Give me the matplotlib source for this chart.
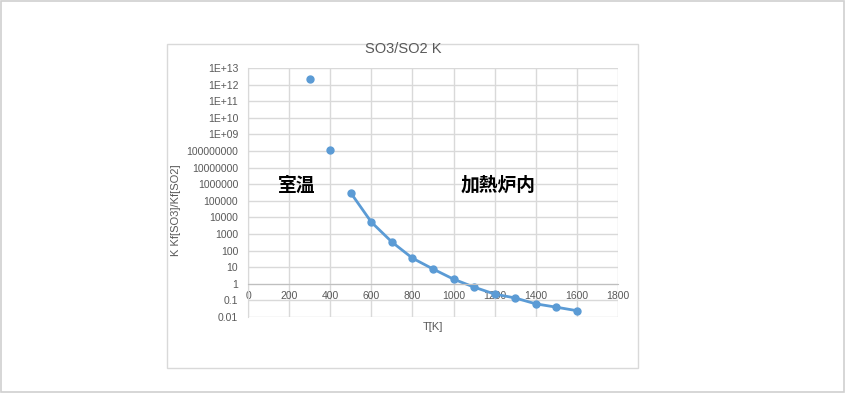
import numpy as np
import matplotlib.pyplot as plt
from matplotlib.patches import Rectangle

plt.rcParams['font.family'] = ['Liberation Sans', 'Noto Sans CJK JP']

# room temperature points (markers only)
t_room = [300, 400]
k_room = [2.2e12, 1.1e8]

# furnace points (line + markers)
t_hot = [500, 600, 700, 800, 900, 1000, 1100, 1200, 1300, 1400, 1500, 1600]
k_hot = [3.0e5, 5.2e3, 330, 35, 7.8, 1.9, 0.63, 0.24, 0.14, 0.062, 0.039, 0.024]

x_ticks = [0, 200, 400, 600, 800, 1000, 1200, 1400, 1600, 1800]
y_ticks = [10.0**p for p in range(-2, 14)]
y_labels = ['0.01', '0.1', '1', '10', '100', '1000', '10000', '100000', '1000000',
            '10000000', '100000000', '1E+09', '1E+10', '1E+11', '1E+12', '1E+13']

blue = '#5B9BD5'
grey = '#595959'
grid_c = '#D9D9D9'

fig = plt.figure(figsize=(8.46, 3.93), dpi=100)
# outer frame and chart frame
fig.patches.append(Rectangle((0.001, 0.002), 0.997, 0.995, transform=fig.transFigure,
                             fill=False, ec='#D0D0D0', lw=1.2))
fig.patches.append(Rectangle((167/846, 1-368/393), (638-167)/846, (368-44)/393,
                             transform=fig.transFigure, fill=False, ec='#D9D9D9', lw=1))

ax = fig.add_axes([248/846, 1-317/393, 370/846, 249/393])
ax.set_yscale('log')
ax.set_xlim(0, 1800)
ax.set_ylim(0.01, 1e13)

ax.plot(t_hot, k_hot, color=blue, lw=2, marker='o', ms=5)
ax.plot(t_room, k_room, ls='none', color=blue, marker='o', ms=5)

ax.set_xticks(x_ticks)
ax.set_xticklabels([str(v) for v in x_ticks])
ax.set_yticks(y_ticks)
ax.set_yticklabels(y_labels)
ax.minorticks_off()
ax.tick_params(length=0, labelsize=7.5, labelcolor=grey)
ax.tick_params(axis='y', pad=7)
ax.tick_params(axis='x', pad=5)

ax.grid(True, color=grid_c, lw=1)
ax.set_axisbelow(True)
for s in ['top', 'right']:
    ax.spines[s].set_visible(False)
ax.spines['left'].set_color(grid_c)
ax.spines['bottom'].set_position(('data', 1))
ax.spines['bottom'].set_color('#BFBFBF')

fig.text(403/846, 1-49/393, 'SO3/SO2 K', ha='center', va='center', fontsize=10.5, color=grey)
fig.text(433/846, 1-327/393, 'T[K]', ha='center', va='center', fontsize=8, color=grey)
fig.text(176/846, 1-210/393, 'K Kf[SO3]/Kf[SO2]', ha='center', va='center',
         rotation=90, fontsize=8, color=grey)

ax.text(238, 8e5, '室温', ha='center', va='center', fontsize=13.5, fontweight='bold', color='black')
ax.text(1216, 8e5, '加熱炉内', ha='center', va='center', fontsize=13.5, fontweight='bold', color='black')

fig.savefig('out.png', dpi=100)
